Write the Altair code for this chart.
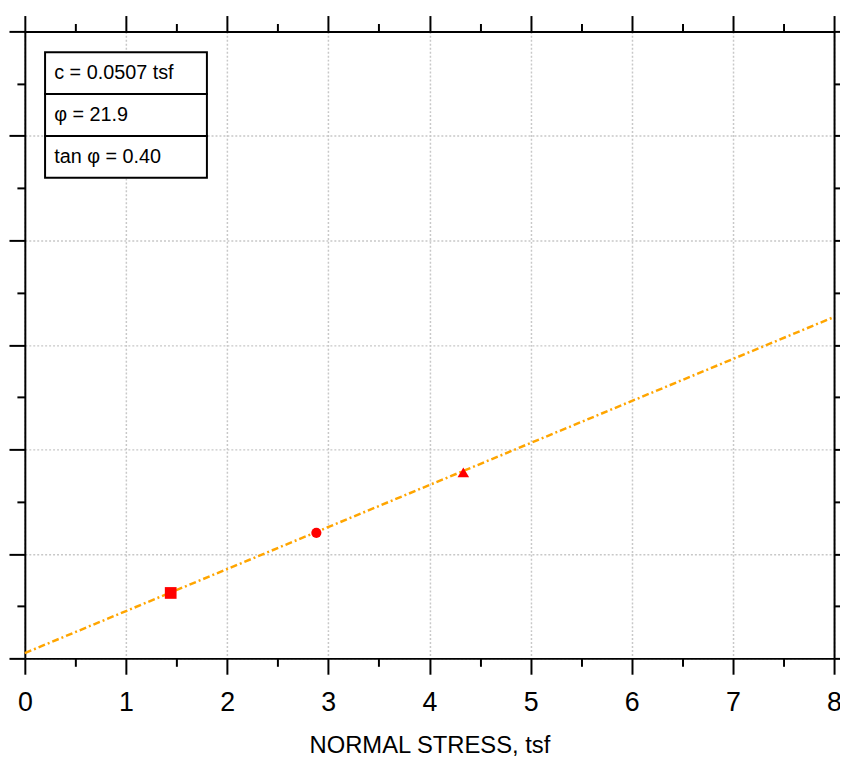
import altair as alt
import pandas as pd

# ---- data ----
stress_pts = [1.442, 2.882, 4.335]
shear_pts = [0.626, 1.201, 1.78]
pt_shapes = ["square", "circle", "triangle-up"]
pt_sizes = [140, 105, 135]

fit_x = [0.0, 8.0]
fit_y = [0.0507, 3.267]

x_major = [0, 1, 2, 3, 4, 5, 6, 7, 8]
x_minor = [0.5, 1.5, 2.5, 3.5, 4.5, 5.5, 6.5, 7.5]
y_major = [0, 1, 2, 3, 4, 5, 6]
y_minor = [0.5, 1.5, 2.5, 3.5, 4.5, 5.5]

legend_labels = ["c = 0.0507 tsf", "\u03c6 = 21.9", "tan \u03c6 = 0.40"]
legend_top = [5.8, 5.4, 5.0]
legend_bottom = [5.4, 5.0, 4.6]
legend_left = 0.2
legend_right = 1.8
legend_text_x = 0.29

FONT = "Liberation Sans"

fit_df = pd.DataFrame({"x": fit_x, "y": fit_y})
pts_df = pd.DataFrame({"x": stress_pts, "y": shear_pts, "shape": pt_shapes, "size": pt_sizes})
leg_df = pd.DataFrame({
    "label": legend_labels,
    "top": legend_top,
    "bottom": legend_bottom,
    "x1": [legend_left] * 3,
    "x2": [legend_right] * 3,
    "tx": [legend_text_x] * 3,
    "ty": [(a + b) / 2 for a, b in zip(legend_top, legend_bottom)],
})

xs = alt.Scale(domain=[0, 8], nice=False, zero=False)
ys = alt.Scale(domain=[0, 6], nice=False, zero=False)

common_axis = dict(tickColor="black", tickWidth=2, domainColor="black", domainWidth=2,
                   labelFont=FONT, titleFont=FONT)

# fit line with bottom/left major axes (labels, grid)
line = alt.Chart(fit_df).mark_line(
    color="#FFA500", strokeWidth=2.5, strokeDash=[7, 3, 2, 3]
).encode(
    x=alt.X("x:Q", scale=xs, axis=alt.Axis(
        orient="bottom", values=x_major, grid=True, gridColor="#c8c8c8", gridDash=[2, 2],
        gridWidth=1.5, tickSize=16, labelFontSize=27, labelColor="black", labelPadding=16,
        labelFlush=False, labelOverlap=False, title="NORMAL STRESS, tsf", titleFontSize=24,
        titleFontWeight="normal", titleColor="black", titleY=76, titleBaseline="top",
        **common_axis)),
    y=alt.Y("y:Q", scale=ys, axis=alt.Axis(
        orient="left", values=y_major, grid=True, gridColor="#c8c8c8", gridDash=[2, 2],
        gridWidth=1.5, tickSize=16, labels=False, title=None, **common_axis)),
)

# top/right major axes
frame_major = alt.Chart(fit_df).mark_point(opacity=0).encode(
    x=alt.X("x:Q", scale=xs, axis=alt.Axis(orient="top", values=x_major, grid=False,
                                          tickSize=16, labels=False, title=None, **common_axis)),
    y=alt.Y("y:Q", scale=ys, axis=alt.Axis(orient="right", values=y_major, grid=False,
                                          tickSize=16, labels=False, title=None, **common_axis)),
)

# minor ticks, bottom/left
minor_bl = alt.Chart(fit_df).mark_point(opacity=0).encode(
    x=alt.X("x:Q", scale=xs, axis=alt.Axis(orient="bottom", values=x_minor, grid=False, domain=False,
                                          tickSize=8, labels=False, title=None, **common_axis)),
    y=alt.Y("y:Q", scale=ys, axis=alt.Axis(orient="left", values=y_minor, grid=False, domain=False,
                                          tickSize=8, labels=False, title=None, **common_axis)),
)

# minor ticks, top/right
minor_tr = alt.Chart(fit_df).mark_point(opacity=0).encode(
    x=alt.X("x:Q", scale=xs, axis=alt.Axis(orient="top", values=x_minor, grid=False, domain=False,
                                          tickSize=8, labels=False, title=None, **common_axis)),
    y=alt.Y("y:Q", scale=ys, axis=alt.Axis(orient="right", values=y_minor, grid=False, domain=False,
                                          tickSize=8, labels=False, title=None, **common_axis)),
)

points = alt.Chart(pts_df).mark_point(filled=True, color="#FF0000", opacity=1).encode(
    x=alt.X("x:Q", scale=xs, axis=None),
    y=alt.Y("y:Q", scale=ys, axis=None),
    shape=alt.Shape("shape:N", scale=alt.Scale(domain=pt_shapes, range=pt_shapes), legend=None),
    size=alt.Size("size:Q", scale=None, legend=None),
)

box = alt.Chart(leg_df).mark_rect(fill="white", stroke="black", strokeWidth=2).encode(
    x=alt.X("x1:Q", scale=xs, axis=None),
    x2="x2:Q",
    y=alt.Y("top:Q", scale=ys, axis=None),
    y2="bottom:Q",
)

box_text = alt.Chart(leg_df).mark_text(
    align="left", baseline="middle", fontSize=20, font=FONT, color="black"
).encode(
    x=alt.X("tx:Q", scale=xs, axis=None),
    y=alt.Y("ty:Q", scale=ys, axis=None),
    text="label:N",
)

chart = alt.layer(line, frame_major, minor_bl, minor_tr, points, box, box_text).resolve_axis(
    x="independent", y="independent"
).properties(
    width=817, height=633,
    padding={"left": 17, "top": 20, "right": 6, "bottom": 101},
    autosize=alt.AutoSizeParams(type="none"),
    background="white",
).configure_view(stroke=None)

chart.save("out.html", embed_options={"renderer": "svg", "actions": False})
